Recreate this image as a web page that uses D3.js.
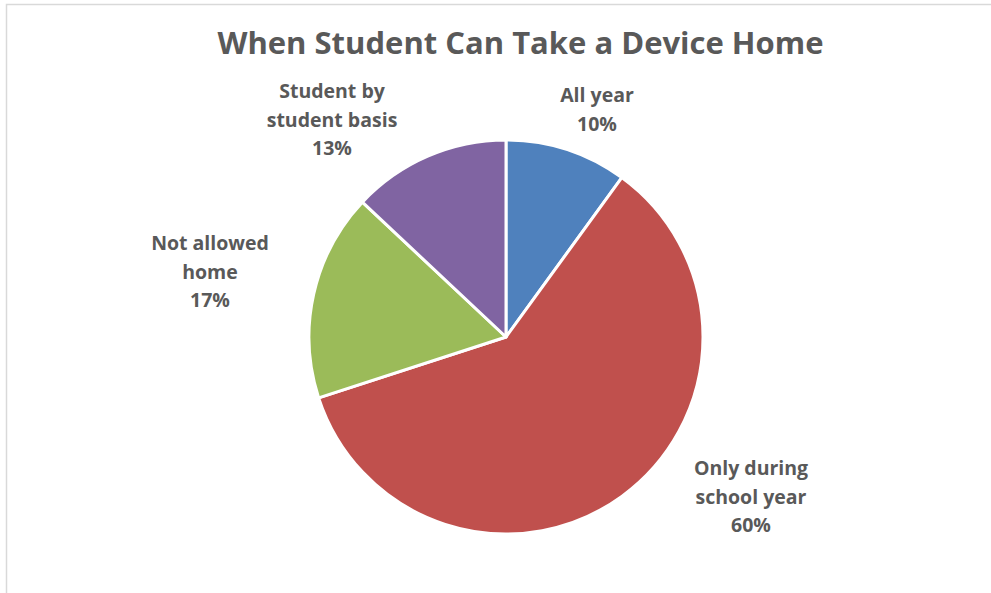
<!DOCTYPE html>
<html><head><meta charset="utf-8">
<script src="https://cdn.jsdelivr.net/npm/d3@7"></script>
<style>html,body{margin:0;padding:0;background:#fff;overflow:hidden}</style>
</head><body>
<svg id="chart" width="991" height="593"></svg>
<script>
const categories = ["All year", "Only during school year", "Not allowed home", "Student by student basis"];
const values = [10, 60, 17, 13];
const labelLines = [["All year"], ["Only during", "school year"], ["Not allowed", "home"], ["Student by", "student basis"]];
const colors = ["#4F81BD", "#C0504D", "#9BBB59", "#8064A2"];
const titleText = "When Student Can Take a Device Home";

// layout (not data)
const cx = 506, cy = 337, R = 197;
const labelAnchors = [[91, -235], [245, 138], [-296, -87], [-174, -239]]; // offsets of first baseline from centre
const lineH = 28.5;

const svg = d3.select("#chart");
svg.append("rect").attr("x", 6.5).attr("y", 4.5).attr("width", 1000).attr("height", 600)
  .attr("fill", "#fff").attr("stroke", "#d9d9d9").attr("stroke-width", 1.5);

const title = svg.append("text").attr("x", 520.5).attr("y", 54).attr("text-anchor", "middle")
  .attr("font-family", "'Open Sans', sans-serif").attr("font-weight", 700).attr("font-size", 31)
  .attr("fill", "#595959").text(titleText);
const tw = title.node().getComputedTextLength();
if (Math.abs(tw - 605) > 2) title.attr("textLength", 605).attr("lengthAdjust", "spacingAndGlyphs");

const pie = d3.pie().sort(null).value(d => d)(values);
const arc = d3.arc().innerRadius(0).outerRadius(R);
const g = svg.append("g").attr("transform", `translate(${cx},${cy})`);
g.selectAll("path").data(pie).join("path")
  .attr("d", arc).attr("fill", (d, i) => colors[i])
  .attr("stroke", "#fff").attr("stroke-width", 3).attr("stroke-linejoin", "round");

const fmt = d3.format(".0%");
const total = d3.sum(values);
pie.forEach((d, i) => {
  const lines = labelLines[i].concat([fmt(values[i] / total)]);
  const t = g.append("text").attr("text-anchor", "middle")
    .attr("font-family", "'Open Sans', sans-serif").attr("font-weight", 700).attr("font-size", 19.5)
    .attr("fill", "#595959");
  lines.forEach((ln, k) => {
    t.append("tspan").attr("x", labelAnchors[i][0]).attr("y", labelAnchors[i][1] + k * lineH).text(ln);
  });
});
</script>
</body></html>
